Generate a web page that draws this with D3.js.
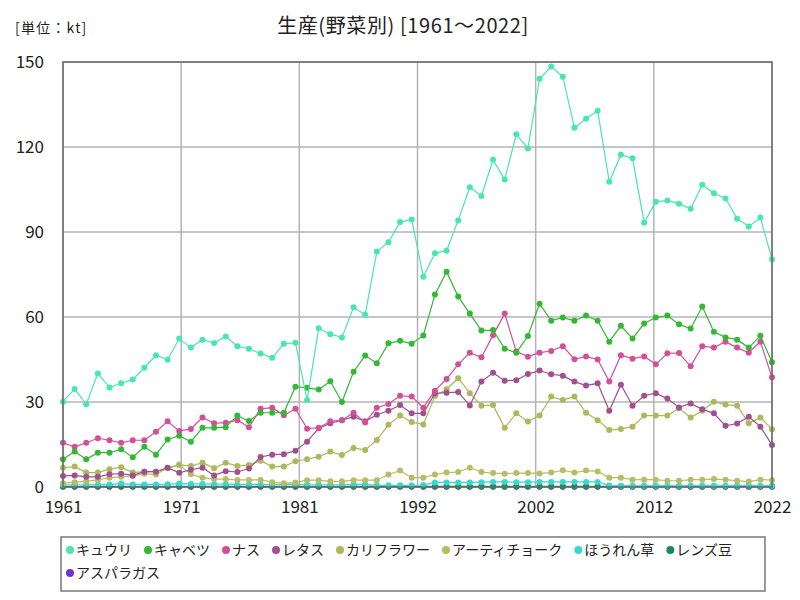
<!DOCTYPE html>
<html>
<head>
<meta charset="utf-8">
<script src="https://cdn.jsdelivr.net/npm/d3@7"></script>
<style>
  body { margin: 0; background: #fff; }
  text { font-family: "Noto Sans CJK JP", "Noto Sans", sans-serif; }
</style>
</head>
<body>
<div id="chart"></div>
<script>
// Chart size and plot area
var svgWidth = 800;
var svgHeight = 600;
var margin = { top: 62, right: 28, bottom: 113, left: 63 };
var chartWidth = svgWidth - margin.left - margin.right;
var chartHeight = svgHeight - margin.top - margin.bottom;

// Data (kt), 1961-2022
var startYear = 1961;
var endYear = 2022;
var seriesNames = ["キュウリ", "キャベツ", "ナス", "レタス", "カリフラワー", "アーティチョーク", "ほうれん草", "レンズ豆", "アスパラガス"];
var seriesColors = ["#48e6b0", "#33b833", "#d2509a", "#a0508e", "#adb85a", "#b8bc62", "#36d8d0", "#158a5c", "#7038c2"];
var yTicks = [0, 30, 60, 90, 120, 150];

var cucumber = [30.1, 34.6, 29.2, 40.1, 35.1, 36.6, 37.9, 42.1, 46.5, 44.9,
  52.4, 49.2, 52.0, 50.8, 53.1, 49.7, 48.8, 47.1, 45.6, 50.6,
  50.9, 30.7, 56.0, 53.9, 52.8, 63.4, 60.8, 83.1, 86.4, 93.5,
  94.4, 74.2, 82.5, 83.4, 94.1, 105.8, 102.7, 115.5, 108.5, 124.5,
  119.5, 144.1, 148.4, 144.8, 126.8, 130.0, 132.8, 107.7, 117.3, 116.0,
  93.3, 100.7, 101.1, 100.0, 98.2, 106.7, 103.7, 101.8, 94.7, 91.9,
  95.1, 80.4];
var cabbage = [9.8, 12.5, 9.8, 12.1, 12.1, 13.3, 10.5, 14.2, 11.4, 16.8,
  18.1, 16.0, 20.9, 20.9, 21.1, 25.2, 23.3, 26.2, 26.2, 26.2,
  35.4, 35.0, 34.4, 37.3, 30.0, 40.7, 46.4, 43.7, 50.7, 51.6,
  50.6, 53.5, 67.9, 76.0, 67.2, 61.2, 55.2, 55.4, 48.8, 47.4,
  53.3, 64.7, 58.7, 59.8, 58.7, 60.5, 58.7, 51.3, 56.9, 52.4,
  57.7, 59.8, 60.5, 57.4, 55.9, 63.7, 54.8, 52.8, 52.0, 49.2,
  53.4, 44.0];
var eggplant = [15.6, 14.2, 15.6, 17.2, 16.5, 15.6, 16.5, 16.5, 19.5, 23.2,
  19.8, 20.5, 24.5, 22.5, 22.7, 23.6, 21.1, 27.6, 28.0, 25.3,
  27.6, 20.6, 20.9, 23.2, 23.6, 26.2, 22.8, 28.0, 29.3, 32.2,
  31.9, 28.0, 34.0, 38.1, 43.3, 47.4, 45.8, 53.6, 61.2, 47.8,
  46.0, 47.4, 48.0, 49.7, 45.1, 46.1, 45.0, 37.2, 46.5, 45.3,
  46.1, 43.3, 47.2, 47.3, 42.6, 49.7, 49.2, 51.3, 49.2, 47.4,
  51.3, 38.7];
var lettuce = [3.9, 4.1, 3.6, 3.6, 4.5, 4.7, 4.1, 5.4, 5.4, 6.8,
  5.0, 6.1, 6.8, 4.1, 5.6, 5.3, 6.5, 10.6, 11.4, 11.6,
  12.8, 16.0, 20.7, 22.5, 23.6, 24.8, 23.2, 25.5, 26.9, 28.9,
  26.0, 26.0, 33.1, 33.3, 33.5, 28.8, 37.2, 40.3, 37.5, 37.7,
  39.9, 41.1, 39.8, 39.3, 37.2, 35.8, 36.6, 26.9, 36.1, 28.7,
  32.2, 33.1, 31.2, 28.1, 29.5, 27.4, 26.0, 21.6, 22.4, 24.8,
  21.3, 14.8];
var cauliflower = [6.8, 7.2, 5.1, 5.1, 6.3, 7.0, 5.1, 5.4, 5.4, 6.6,
  7.8, 7.4, 8.6, 6.6, 8.6, 7.4, 7.8, 9.3, 7.2, 7.2,
  9.1, 9.8, 10.7, 12.5, 11.3, 13.8, 13.1, 16.6, 22.0, 25.2,
  22.9, 22.1, 32.1, 34.5, 38.4, 33.1, 28.7, 28.9, 20.9, 26.0,
  23.1, 25.2, 31.9, 30.7, 31.9, 26.2, 23.6, 20.1, 20.5, 21.3,
  25.2, 25.2, 25.2, 27.8, 24.5, 26.9, 30.1, 29.1, 28.7, 22.5,
  24.5, 20.4];
var artichoke = [1.3, 1.7, 2.0, 2.5, 3.3, 3.6, 3.9, 4.7, 4.4, 6.8,
  7.9, 4.5, 3.3, 2.8, 2.8, 2.5, 2.5, 2.5, 1.7, 1.3,
  1.6, 2.4, 2.4, 2.0, 2.0, 2.4, 2.4, 2.4, 4.4, 5.8,
  3.3, 3.3, 4.4, 5.1, 5.3, 6.8, 5.3, 4.9, 4.7, 4.9,
  4.9, 4.8, 5.1, 5.9, 5.1, 5.8, 5.5, 3.3, 3.3, 2.6,
  2.6, 2.6, 2.2, 2.2, 2.6, 2.6, 2.8, 2.6, 2.2, 1.9,
  2.6, 2.4];
var spinach = [0.7, 0.8, 0.8, 0.8, 0.9, 1.2, 0.9, 0.9, 0.9, 1.0,
  1.2, 1.1, 1.1, 1.0, 1.0, 0.9, 0.9, 0.9, 0.8, 0.9,
  1.0, 0.8, 0.8, 0.8, 0.8, 0.9, 0.9, 0.6, 0.6, 0.6,
  0.6, 0.7, 1.6, 1.6, 1.6, 1.6, 1.7, 1.8, 1.8, 1.7,
  1.7, 1.8, 1.8, 1.8, 1.8, 1.8, 1.8, 0.5, 0.4, 0.4,
  0.4, 0.4, 0.4, 0.4, 0.4, 0.5, 0.4, 0.4, 0.4, 0.5,
  0.4, 0.4];
var lentils = [0.2, 0.2, 0.2, 0.2, 0.2, 0.2, 0.2, 0.2, 0.2, 0.2,
  0.2, 0.2, 0.2, 0.2, 0.2, 0.2, 0.2, 0.2, 0.2, 0.2,
  0.2, 0.2, 0.2, 0.2, 0.2, 0.2, 0.2, 0.2, 0.2, 0.2,
  0.2, 0.2, 0.2, 0.2, 0.2, 0.2, 0.2, 0.2, 0.2, 0.2,
  0.2, 0.2, 0.2, 0.2, 0.2, 0.2, 0.2, 0.2, 0.2, 0.2,
  0.2, 0.2, 0.2, 0.2, 0.2, 0.2, 0.2, 0.2, 0.2, 0.2,
  0.2, 0.2];
var asparagus = [0.1, 0.1, 0.1, 0.1, 0.1, 0.1, 0.1, 0.1, 0.1, 0.1,
  0.1, 0.1, 0.1, 0.1, 0.1, 0.1, 0.1, 0.1, 0.1, 0.1,
  0.1, 0.1, 0.1, 0.1, 0.1, 0.1, 0.1, 0.1, 0.1, 0.1,
  0.1, 0.1, 0.1, 0.1, 0.1, 0.1, 0.1, 0.1, 0.1, 0.1,
  0.1, 0.1, 0.1, 0.1, 0.1, 0.1, 0.1, 0.1, 0.1, 0.1,
  0.1, 0.1, 0.1, 0.1, 0.1, 0.1, 0.1, 0.1, 0.1, 0.1,
  0.1, 0.1];

var seriesValues = [cucumber, cabbage, eggplant, lettuce, cauliflower, artichoke, spinach, lentils, asparagus];

var series = seriesNames.map(function(name, i) {
  return {
    name: name,
    color: seriesColors[i],
    values: seriesValues[i].map(function(v, j) { return { year: startYear + j, value: v }; })
  };
});

var svg = d3.select("#chart")
  .append("svg")
  .attr("width", svgWidth)
  .attr("height", svgHeight);

// Titles
svg.append("text")
  .attr("x", 403)
  .attr("y", 33)
  .attr("text-anchor", "middle")
  .attr("font-size", 20)
  .attr("letter-spacing", 0.6)
  .attr("fill", "#222")
  .text("生産(野菜別) [1961～2022]");

svg.append("text")
  .attr("x", 15)
  .attr("y", 33)
  .attr("font-size", 14)
  .attr("letter-spacing", 1.2)
  .attr("fill", "#222")
  .text("[単位：kt]");

var chartGroup = svg.append("g")
  .attr("transform", `translate(${margin.left}, ${margin.top})`);

// Scales
var xScale = d3.scaleLinear()
  .domain([startYear, endYear])
  .range([0, chartWidth]);

var yScale = d3.scaleLinear()
  .domain([0, 150])
  .range([chartHeight, 0]);

// tick labels are evenly spaced and rounded to whole years
var xTicks = d3.range(7).map(function(i) { return startYear + i * (endYear - startYear) / 6; });

// Grid lines
chartGroup.append("g")
  .selectAll("line")
  .data(yTicks)
  .join("line")
  .attr("x1", 0)
  .attr("x2", chartWidth)
  .attr("y1", d => yScale(d))
  .attr("y2", d => yScale(d))
  .attr("stroke", "#b4b4b4")
  .attr("stroke-width", 1.5);

chartGroup.append("g")
  .selectAll("line")
  .data(xTicks)
  .join("line")
  .attr("x1", d => xScale(d))
  .attr("x2", d => xScale(d))
  .attr("y1", 0)
  .attr("y2", chartHeight)
  .attr("stroke", "#b4b4b4")
  .attr("stroke-width", 1.5);

// Axes (labels only)
var bottomAxis = d3.axisBottom(xScale)
  .tickValues(xTicks)
  .tickFormat(d => Math.round(d))
  .tickSize(0)
  .tickPadding(14);
var leftAxis = d3.axisLeft(yScale)
  .tickValues(yTicks)
  .tickSize(0)
  .tickPadding(19);

var xAxisG = chartGroup.append("g")
  .attr("transform", `translate(0, ${chartHeight})`)
  .call(bottomAxis);
var yAxisG = chartGroup.append("g").call(leftAxis);

[xAxisG, yAxisG].forEach(function(g) {
  g.select(".domain").remove();
  g.selectAll("text")
    .attr("font-size", 17)
    .attr("fill", "#222")
    .style("font-family", "'Noto Sans CJK JP', sans-serif");
});

// Lines and points
var line = d3.line()
  .x(d => xScale(d.year))
  .y(d => yScale(d.value));

var seriesG = chartGroup.append("g")
  .selectAll("g")
  .data(series.slice().reverse())
  .join("g");

seriesG.append("path")
  .attr("d", d => line(d.values))
  .attr("fill", "none")
  .attr("stroke", d => d.color)
  .attr("stroke-width", 1.2);

seriesG.selectAll("circle")
  .data(d => d.values.map(v => ({ year: v.year, value: v.value, color: d.color })))
  .join("circle")
  .attr("cx", d => xScale(d.year))
  .attr("cy", d => yScale(d.value))
  .attr("r", 3)
  .attr("fill", d => d.color);

// Plot frame
chartGroup.append("rect")
  .attr("x", 0)
  .attr("y", 0)
  .attr("width", chartWidth)
  .attr("height", chartHeight)
  .attr("fill", "none")
  .attr("stroke", "#6a6a6a")
  .attr("stroke-width", 1.5);

// Legend
var legend = svg.append("g");
legend.append("rect")
  .attr("x", 61)
  .attr("y", 537)
  .attr("width", 704)
  .attr("height", 54)
  .attr("fill", "#fff")
  .attr("stroke", "#7a7a7a")
  .attr("stroke-width", 1.5);

var lx = 70;
var ly = 550;
series.forEach(function(s, i) {
  if (i === 8) { lx = 70; ly = 573; }
  legend.append("circle")
    .attr("cx", lx)
    .attr("cy", ly)
    .attr("r", 4)
    .attr("fill", s.color);
  var t = legend.append("text")
    .attr("x", lx + 6)
    .attr("y", ly + 5)
    .attr("font-size", 14)
    .attr("fill", "#222")
    .text(s.name);
  lx += 6 + t.node().getComputedTextLength() + 16;
});
</script>
</body>
</html>
